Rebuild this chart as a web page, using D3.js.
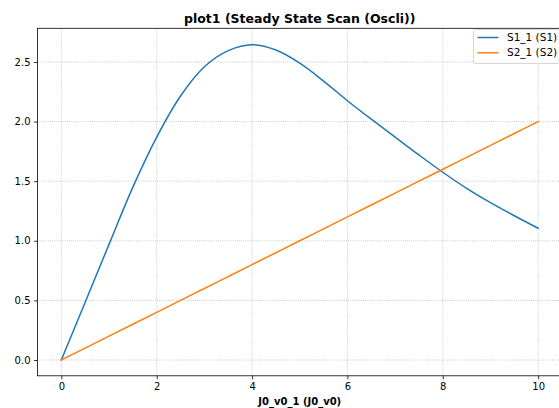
<!DOCTYPE html>
<html>
<head>
<meta charset="utf-8">
<script src="https://cdn.jsdelivr.net/npm/d3@7"></script>
<style>
  html, body { margin: 0; padding: 0; background: #fff; }
  svg { display: block; font-family: "DejaVu Sans", sans-serif; }
</style>
</head>
<body>
<div id="chart"></div>
<script>
// ---- data ----
const xValues = [0, 0.5, 1, 1.5, 2, 2.5, 3, 3.5, 4, 4.5, 5, 5.5, 6, 6.5, 7, 7.5, 8, 8.5, 9, 9.5, 10];
const s1Values = [0, 0.485, 0.97, 1.45, 1.87, 2.215, 2.46, 2.595, 2.645, 2.6, 2.49, 2.34, 2.175, 2.02, 1.87, 1.72, 1.575, 1.44, 1.32, 1.21, 1.105];
const s2Values = [0, 0.1, 0.2, 0.3, 0.4, 0.5, 0.6, 0.7, 0.8, 0.9, 1.0, 1.1, 1.2, 1.3, 1.4, 1.5, 1.6, 1.7, 1.8, 1.9, 2.0];
const seriesNames = ["S1_1 (S1)", "S2_1 (S2)"];
const seriesColors = ["#1f77b4", "#ff7f0e"];
const xTicks = [0, 2, 4, 6, 8, 10];
const yTicks = [0.0, 0.5, 1.0, 1.5, 2.0, 2.5];
const titleText = "plot1 (Steady State Scan (Oscli))";
const xLabelText = "J0_v0_1 (J0_v0)";

// ---- layout ----
const W = 559, H = 408;
const mLeft = 37.5, mRight = 562, mTop = 28.3, mBottom = 375.8;

const svg = d3.select("#chart").append("svg").attr("width", W).attr("height", H);

const x = d3.scaleLinear().domain([-0.5, 10.5]).range([mLeft, mRight]);
const y = d3.scaleLinear().domain([-0.1325, 2.7825]).range([mBottom, mTop]);

// grid
const grid = svg.append("g");
xTicks.forEach(t => {
  grid.append("line").attr("x1", x(t)).attr("x2", x(t)).attr("y1", mTop).attr("y2", mBottom)
    .attr("stroke", "#b0b0b0").attr("stroke-width", 0.8).attr("stroke-dasharray", "0.8,1.3");
});
yTicks.forEach(t => {
  grid.append("line").attr("x1", mLeft).attr("x2", mRight).attr("y1", y(t)).attr("y2", y(t))
    .attr("stroke", "#b0b0b0").attr("stroke-width", 0.8).attr("stroke-dasharray", "0.8,1.3");
});

// lines
const series = [s1Values, s2Values];
const line = d3.line().x((d, i) => x(xValues[i])).y(d => y(d)).curve(d3.curveCatmullRom.alpha(0.5));
series.forEach((vals, k) => {
  svg.append("path").datum(vals).attr("d", line)
    .attr("fill", "none").attr("stroke", seriesColors[k]).attr("stroke-width", 1.5)
    .attr("stroke-linecap", "square");
});

// axes
const xAxis = d3.axisBottom(x).tickValues(xTicks).tickSize(3.5).tickPadding(3.5).tickFormat(d3.format("d"));
const yAxis = d3.axisLeft(y).tickValues(yTicks).tickSize(3.5).tickPadding(3.5).tickFormat(d3.format(".1f"));
const gx = svg.append("g").attr("transform", `translate(0,${mBottom})`).call(xAxis);
const gy = svg.append("g").attr("transform", `translate(${mLeft},0)`).call(yAxis);
[gx, gy].forEach(g => {
  g.select(".domain").remove();
  g.selectAll(".tick line").attr("stroke", "#000").attr("stroke-width", 0.8);
  g.selectAll(".tick text").attr("fill", "#000").attr("font-size", 10).attr("font-family", "DejaVu Sans");
});

// spines
svg.append("rect").attr("x", mLeft).attr("y", mTop).attr("width", mRight - mLeft).attr("height", mBottom - mTop)
  .attr("fill", "none").attr("stroke", "#000").attr("stroke-width", 0.8);

// title and label
svg.append("text").attr("x", (mLeft + mRight) / 2).attr("y", 22.5).attr("text-anchor", "middle")
  .attr("font-size", 12.5).attr("font-weight", "bold").attr("fill", "#000").text(titleText);
svg.append("text").attr("x", (mLeft + mRight) / 2).attr("y", 405).attr("text-anchor", "middle")
  .attr("font-size", 10).attr("font-weight", "bold").attr("fill", "#000").text(xLabelText);

// legend
const lg = svg.append("g");
lg.append("rect").attr("x", 473.5).attr("y", 29.5).attr("width", 86).attr("height", 34).attr("rx", 2)
  .attr("fill", "#fff").attr("fill-opacity", 0.8).attr("stroke", "#ccc").attr("stroke-width", 0.8);
seriesNames.forEach((name, k) => {
  const cy = 37.5 + k * 15.3;
  lg.append("line").attr("x1", 477.5).attr("x2", 498.5).attr("y1", cy).attr("y2", cy)
    .attr("stroke", seriesColors[k]).attr("stroke-width", 1.5);
  lg.append("text").attr("x", 507).attr("y", cy).attr("dy", "0.35em")
    .attr("font-size", 10.5).attr("fill", "#000").text(name);
});
</script>
</body>
</html>
